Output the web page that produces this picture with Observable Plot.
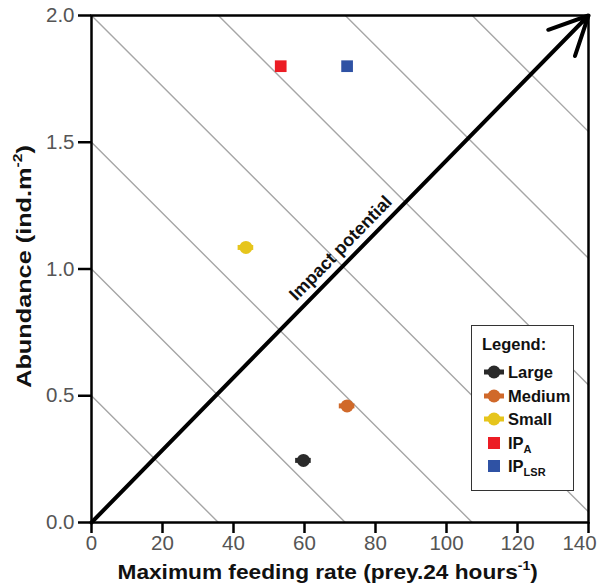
<!DOCTYPE html>
<html>
<head>
<meta charset="utf-8">
<script src="https://cdn.jsdelivr.net/npm/d3@7"></script>
<script src="https://cdn.jsdelivr.net/npm/@observablehq/plot@0.6"></script>
<style>
  html, body { margin: 0; padding: 0; background: #fff; }
  body { font-family: "Liberation Sans", Arial, Helvetica, sans-serif; }
  #wrap { position: relative; width: 598px; height: 585px; overflow: hidden; }
  .axlabel { position: absolute; font-weight: bold; font-size: 21px; color: #111; white-space: nowrap; line-height: 1; transform-origin: 50% 50%; }
  .axlabel sup { font-size: 13px; vertical-align: 9px; line-height: 0; }
  #legend { position: absolute; left: 471px; top: 325px; width: 101px; height: 164px; border: 1.5px solid #333; background: #fff; font-weight: bold; font-size: 16.5px; color: #111; }
  #legend .row { position: absolute; left: 10px; height: 20px; display: flex; align-items: center; white-space: nowrap; }
  #legend .row svg { width: 24px; height: 16px; margin-right: 2px; }
  #legend sub { font-size: 11px; vertical-align: -4px; line-height: 0; }
</style>
</head>
<body>
<div id="wrap"></div>
<script>
// ---- data ----
const sizeClasses = ["Large", "Medium", "Small"];
const feedingRate = [59.7, 72.0, 43.5];      // prey per 24 h
const abundance   = [0.245, 0.46, 1.085];    // ind. m^-2
const feedingErr  = [2.2, 2.2, 2.2];
const sizeColors  = ["#2a2a2a", "#d0692a", "#e6c51c"];

const ipLabels = ["IPA", "IPLSR"];
const ipX      = [53.3, 72.0];
const ipY      = [1.8, 1.8];
const ipColors = ["#ec1c24", "#2f52a4"];

const isoLevels = [0.5, 1.0, 1.5, 2.0, 2.5, 3.0, 3.5]; // impact-potential isoclines (y-intercepts)
const isoSlope  = 71.5;                                 // x units per 1 unit of y along an isocline

const xTicks = [0, 20, 40, 60, 80, 100, 120, 140];
const yTicks = [0, 0.5, 1.0, 1.5, 2.0];
const arrowLabel = "Impact potential";

// ---- derived tables ----
const sizeData = sizeClasses.map((s, i) => ({s, x: feedingRate[i], y: abundance[i], e: feedingErr[i], c: sizeColors[i]}));
const ipData = ipLabels.map((s, i) => ({s, x: ipX[i], y: ipY[i], c: ipColors[i]}));
const isoData = isoLevels.flatMap(c => [{c, x: 0, y: c}, {c, x: c * isoSlope, y: 0}]);
const lastX = xTicks[xTicks.length - 1];

const FONT = '"Liberation Sans", Arial, Helvetica, sans-serif';

const chart = Plot.plot({
  width: 598,
  height: 585,
  marginLeft: 91,
  marginRight: 10,
  marginTop: 15,
  marginBottom: 63,
  style: {fontFamily: FONT, background: "#fff"},
  x: {domain: [0, 140]},
  y: {domain: [0, 2.0]},
  marks: [
    Plot.line(isoData, {x: "x", y: "y", z: "c", stroke: "#a6a6a6", strokeWidth: 1.4, clip: true}),
    Plot.arrow([{x1: 0, y1: 0, x2: 140, y2: 2.0}], {x1: "x1", y1: "y1", x2: "x2", y2: "y2", stroke: "black", strokeWidth: 4, headLength: 16, headAngle: 52}),
    Plot.text([{x: 73, y: 73 / 70}], {x: "x", y: "y", text: () => arrowLabel, rotate: -45.6, fontWeight: "bold", fontSize: 18, fill: "#111", lineAnchor: "middle", dx: -10, dy: -10, textAnchor: "middle"}),
    Plot.ruleY(sizeData, {y: "y", x1: d => d.x - d.e, x2: d => d.x + d.e, stroke: "c", strokeWidth: 5}),
    Plot.dot(sizeData, {x: "x", y: "y", r: 6.5, fill: "c", stroke: "none"}),
    Plot.dot(ipData, {x: "x", y: "y", r: 6.6, symbol: "square", fill: "c", stroke: "none"}),
    Plot.frame({stroke: "black", strokeWidth: 2.5}),
    Plot.axisY({ticks: yTicks, tickFormat: d => d.toFixed(1), tickSize: 13, tickPadding: 4, fontSize: 20.5, fill: "#555", stroke: "black", strokeWidth: 2.5, label: null}),
    Plot.axisX({ticks: xTicks, tickFormat: d => d === lastX ? "" : String(d), tickSize: 11, tickPadding: 2, fontSize: 20.5, fill: "#555", stroke: "black", strokeWidth: 2.5, label: null}),
    Plot.axisX({ticks: [lastX], tickFormat: d => String(d), tickSize: 0, tickPadding: 13, dx: -9, fontSize: 20.5, fill: "#555", stroke: "none", label: null})
  ]
});
chart.style.color = "black";
const wrap = document.getElementById("wrap");
wrap.appendChild(chart);

// axis titles
const xl = document.createElement("div");
xl.className = "axlabel";
xl.innerHTML = "Maximum feeding rate (prey.24 hours<sup>-1</sup>)";
wrap.appendChild(xl);
const yl = document.createElement("div");
yl.className = "axlabel";
yl.innerHTML = "Abundance (ind.m<sup>-2</sup>)";
wrap.appendChild(yl);
{
  const w = xl.offsetWidth, h = xl.offsetHeight;
  xl.style.left = (327 - w / 2) + "px";
  xl.style.top = (571 - h / 2) + "px";
  xl.style.transform = `scaleX(${420 / w})`;
  const w2 = yl.offsetWidth, h2 = yl.offsetHeight;
  yl.style.left = (24 - w2 / 2) + "px";
  yl.style.top = (266.5 - h2 / 2) + "px";
  yl.style.transform = `rotate(-90deg) scaleX(${243 / w2})`;
}

// legend
const legend = document.createElement("div");
legend.id = "legend";
const title = document.createElement("div");
title.className = "row";
title.style.top = "8px";
title.textContent = "Legend:";
legend.appendChild(title);
const rowTops = [36, 60, 83, 107, 130];
sizeData.forEach((d, i) => {
  const r = document.createElement("div");
  r.className = "row";
  r.style.top = rowTops[i] + "px";
  r.innerHTML = `<svg viewBox="0 0 24 16"><rect x="2" y="5.5" width="20" height="5" fill="${d.c}"/><circle cx="12" cy="8" r="6.5" fill="${d.c}"/></svg><span>${d.s}</span>`;
  legend.appendChild(r);
});
const ipHtml = ["IP<sub>A</sub>", "IP<sub>LSR</sub>"];
ipData.forEach((d, i) => {
  const r = document.createElement("div");
  r.className = "row";
  r.style.top = rowTops[3 + i] + "px";
  r.innerHTML = `<svg viewBox="0 0 24 16"><rect x="6" y="2" width="12" height="12" fill="${d.c}"/></svg><span>${ipHtml[i]}</span>`;
  legend.appendChild(r);
});
wrap.appendChild(legend);
</script>
</body>
</html>
